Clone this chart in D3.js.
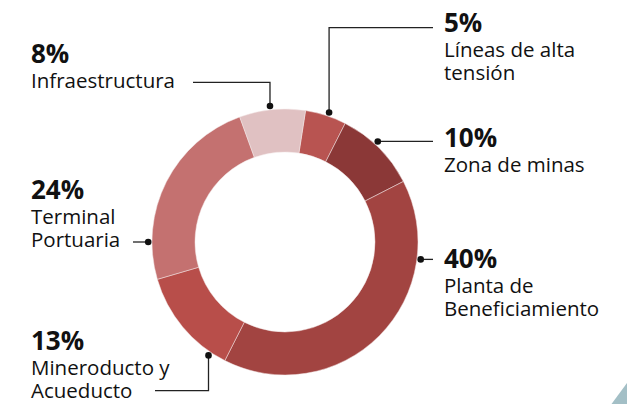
<!DOCTYPE html>
<html>
<head>
<meta charset="utf-8">
<script src="https://cdn.jsdelivr.net/npm/d3@7"></script>
<style>
  body { margin: 0; background: #fff; }
  text { font-family: "Open Sans", "Noto Sans", sans-serif; fill: #111; }
</style>
</head>
<body>
<script>
// data, clockwise from the 5% slice
const labels = [['Líneas de alta', 'tensión'], ['Zona de minas'], ['Planta de', 'Beneficiamiento'],
  ['Mineroducto y', 'Acueducto'], ['Terminal', 'Portuaria'], ['Infraestructura']];
const shares = [5, 10, 40, 13, 24, 8];
const colors = ['#b85451', '#8b3837', '#a24441', '#b84e4a', '#c47170', '#e0c1c2'];

const width = 627,
  height = 404;

// layout for the callouts: dot angle (deg), leader path, text anchor
const callouts = [
  { ang: 18.8, path: d => [[d[0], d[1]], [d[0], 27.7], [433, 27.7]], tx: 444, ty: 32 },
  { ang: 42.7, path: d => [[d[0], d[1]], [433, d[1]]], tx: 444, ty: 147 },
  { ang: 97.3, path: d => [[d[0], d[1]], [433, d[1]]], tx: 444, ty: 268 },
  { ang: 214, path: d => [[d[0], d[1]], [d[0], 390.7], [155, 390.7]], tx: 31, ty: 350 },
  { ang: 270, path: d => [[d[0], d[1]], [133, d[1]]], tx: 31, ty: 199 },
  { ang: -6.3, path: d => [[d[0], d[1]], [d[0], 82.3], [193, 82.3]], tx: 31, ty: 63 }
];

const cx = 285, cy = 242, rOuter = 133, rInner = 90, rDot = 136.8;

const svg = d3.select('body').append('svg')
  .attr('width', width)
  .attr('height', height);

const pie = d3.pie().sort(null)
  .startAngle(8.9 * Math.PI / 180)
  .endAngle(8.9 * Math.PI / 180 + 2 * Math.PI);

const arc = d3.arc().innerRadius(rInner).outerRadius(rOuter);

const g = svg.append('g').attr('transform', `translate(${cx},${cy})`);

g.selectAll('path')
  .data(pie(shares))
  .enter()
  .append('path')
  .attr('d', arc)
  .style('fill', (d, i) => colors[i])
  .style('stroke', '#f3e6e6')
  .style('stroke-width', '0.5px');

const line = d3.line();

callouts.forEach((c, i) => {
  const a = c.ang * Math.PI / 180;
  const dot = [cx + rDot * Math.sin(a), cy - rDot * Math.cos(a)];
  svg.append('path')
    .attr('d', line(c.path(dot)))
    .style('fill', 'none')
    .style('stroke', '#222')
    .style('stroke-width', '1.3px');
  svg.append('circle')
    .attr('cx', dot[0]).attr('cy', dot[1]).attr('r', 3.3)
    .style('fill', '#111');

  const t = svg.append('text').attr('x', c.tx).attr('y', c.ty);
  t.append('tspan')
    .attr('x', c.tx)
    .style('font-weight', 'bold')
    .style('font-size', '26px')
    .text(shares[i] + '%');
  labels[i].forEach((s, j) => {
    t.append('tspan')
      .attr('x', c.tx)
      .attr('dy', j === 0 ? 25 : 22.5)
      .style('font-size', '20.5px')
      .text(s);
  });
});

// corner decoration
svg.append('path')
  .attr('d', line([[611.5, height], [width, 383], [width, height]]))
  .style('fill', '#a3bfc6');
</script>
</body>
</html>
